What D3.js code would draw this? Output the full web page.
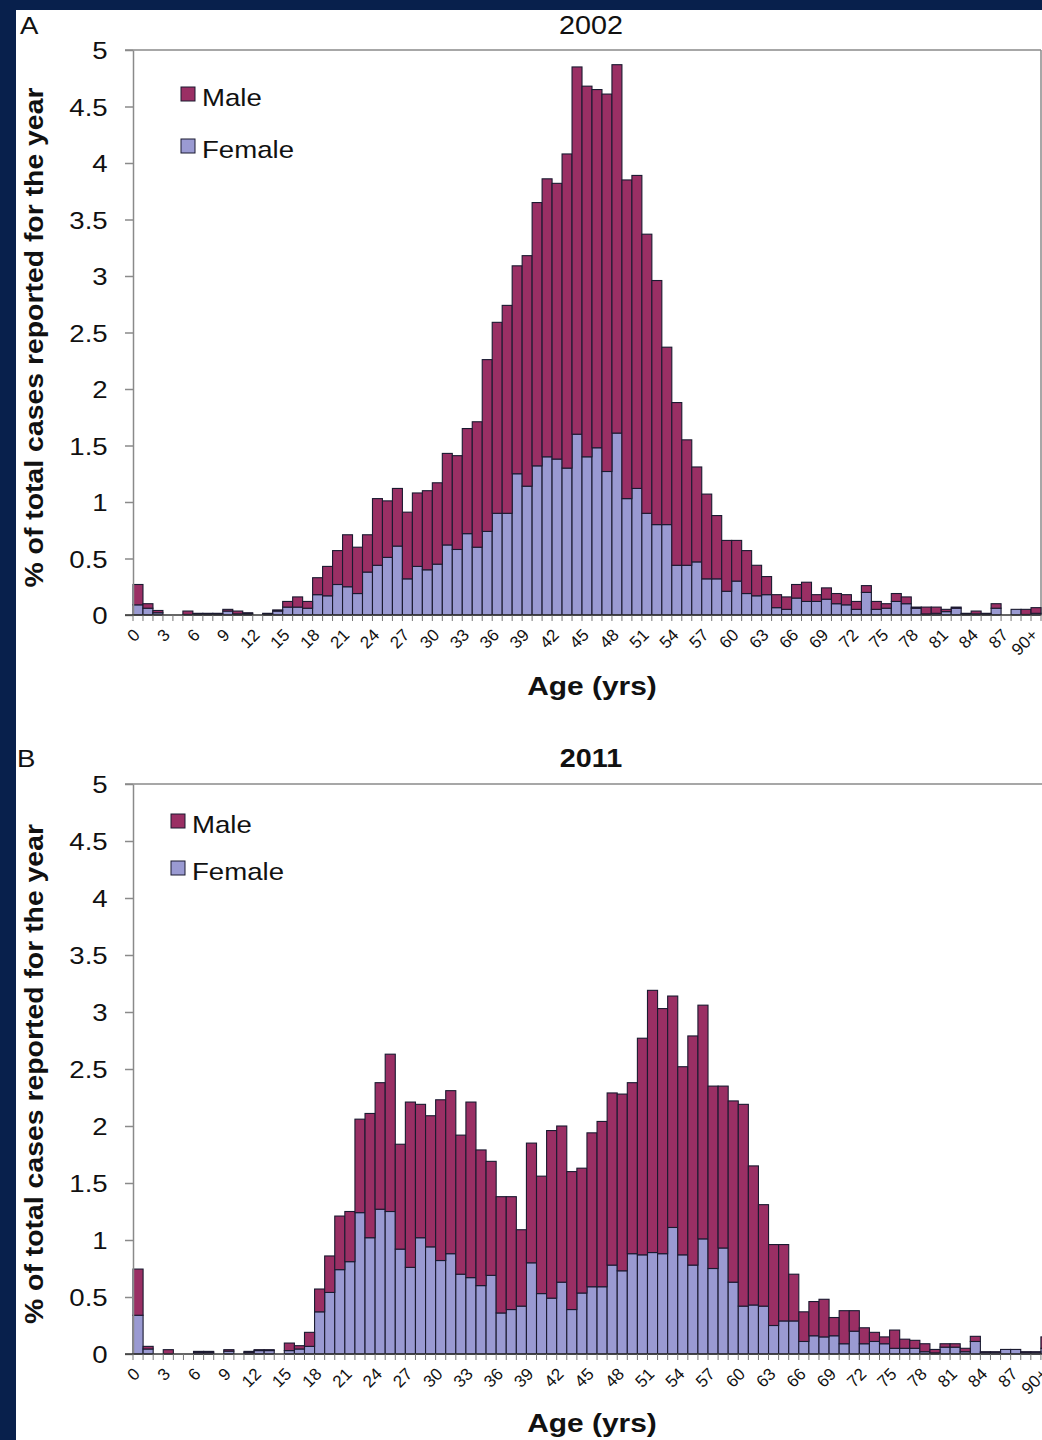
<!DOCTYPE html>
<html>
<head>
<meta charset="utf-8">
<script src="https://cdn.jsdelivr.net/npm/d3@7"></script>
<style>
  body { margin: 0; background: #08204c; }
  svg { display: block; }
</style>
</head>
<body>
<svg id="fig" width="1042" height="1440"></svg>
<script>
// age categories 0..89 plus 90+
const ages = d3.range(90).map(String).concat(["90+"]);

// % of total cases (female part + male part of each bar)
const female2002 = [0.09,0.06,0.02,0,0,0.005,0.01,0.01,0.01,0.035,
  0.01,0.01,0,0.01,0.035,0.07,0.07,0.06,0.18,0.17,
  0.27,0.25,0.19,0.38,0.44,0.51,0.61,0.32,0.43,0.40,
  0.45,0.62,0.58,0.72,0.60,0.74,0.90,0.90,1.25,1.14,
  1.32,1.40,1.38,1.30,1.60,1.40,1.48,1.27,1.61,1.03,
  1.12,0.90,0.80,0.80,0.44,0.44,0.47,0.32,0.32,0.21,
  0.30,0.19,0.17,0.18,0.065,0.05,0.15,0.12,0.12,0.14,
  0.10,0.09,0.05,0.20,0.05,0.06,0.12,0.10,0.06,0.01,
  0.015,0.03,0.06,0.01,0.01,0.01,0.06,0,0.05,0.005,0.015];
const male2002 = [0.18,0.04,0.02,0,0,0.03,0.005,0.005,0.005,0.015,
  0.025,0.01,0,0.005,0.01,0.05,0.09,0.06,0.15,0.26,
  0.30,0.46,0.41,0.33,0.59,0.50,0.51,0.59,0.65,0.70,
  0.72,0.81,0.83,0.93,1.11,1.52,1.69,1.84,1.84,2.04,
  2.33,2.46,2.44,2.78,3.25,3.28,3.17,3.34,3.26,2.82,
  2.77,2.47,2.16,1.57,1.44,1.11,0.84,0.75,0.56,0.45,
  0.36,0.38,0.27,0.16,0.115,0.11,0.12,0.17,0.06,0.10,
  0.09,0.09,0.07,0.06,0.07,0.04,0.07,0.06,0.01,0.06,
  0.055,0.02,0.01,0.005,0.025,0.005,0.04,0,0,0.045,0.05];

const female2011 = [0.34,0.044,0,0,0,0,0.015,0.015,0,0.025,
  0,0.015,0.03,0.03,0,0.03,0.044,0.067,0.37,0.54,
  0.74,0.81,1.24,1.02,1.27,1.25,0.92,0.76,1.02,0.94,
  0.82,0.88,0.70,0.67,0.60,0.69,0.36,0.39,0.42,0.80,
  0.53,0.49,0.63,0.39,0.535,0.59,0.59,0.78,0.73,0.88,
  0.87,0.89,0.88,1.11,0.87,0.78,1.01,0.75,0.93,0.63,
  0.42,0.43,0.42,0.25,0.29,0.29,0.11,0.16,0.15,0.16,
  0.09,0.20,0.09,0.11,0.09,0.05,0.05,0.05,0.02,0.01,
  0.06,0.06,0.02,0.11,0.015,0.015,0.04,0.04,0.015,0.015,0.05];
const male2011 = [0.405,0.023,0,0.038,0,0,0.008,0.008,0,0.013,
  0,0.008,0.008,0.008,0,0.066,0.029,0.123,0.20,0.32,
  0.47,0.44,0.82,1.09,1.11,1.38,0.92,1.45,1.17,1.15,
  1.41,1.43,1.22,1.54,1.19,1.00,1.02,0.99,0.67,1.05,
  1.03,1.47,1.37,1.21,1.095,1.35,1.45,1.51,1.55,1.50,
  1.90,2.30,2.15,2.03,1.65,2.01,2.05,1.60,1.42,1.59,
  1.77,1.22,0.89,0.71,0.67,0.41,0.26,0.30,0.33,0.16,
  0.29,0.18,0.14,0.08,0.06,0.16,0.08,0.07,0.07,0.03,
  0.03,0.03,0.03,0.045,0.005,0.005,0,0,0.005,0.005,0.10];

const yTicks = [0,0.5,1,1.5,2,2.5,3,3.5,4,4.5,5];
const seriesNames = ["Female","Male"];

const colors = { female: "#9a9ad2", male: "#9a2f64" };
const font = "'Liberation Sans', Arial, sans-serif";
const SX = 1.15; // the source figure is a bit wide

const svg = d3.select("#fig");

// navy frame, white page
svg.append("rect").attr("width", 1042).attr("height", 1440).attr("fill", "#08204c");
svg.append("rect").attr("x", 16).attr("y", 10).attr("width", 1026).attr("height", 1430).attr("fill", "#fff");

function label(g, x, y, txt, size, weight, anchor) {
  return g.append("text")
    .attr("transform", "translate(" + x + "," + y + ") scale(" + SX + ",1)")
    .attr("text-anchor", anchor || "start")
    .style("font-family", font)
    .style("font-size", size + "px")
    .style("font-weight", weight || "normal")
    .attr("fill", "#111")
    .text(txt);
}

const panels = [
  { letter: "A", title: "2002", bold: false, top: 50, bottom: 615, left: 133, right: 1041,
    female: female2002, male: male2002, legX: 181, legY: [106, 158], titleY: 34, ageY: 695, letterX: 20 },
  { letter: "B", title: "2011", bold: true, top: 784, bottom: 1354, left: 133, right: 1051,
    female: female2011, male: male2011, legX: 171, legY: [833, 880], titleY: 767, ageY: 1432, letterX: 17 }
];

panels.forEach(function(p) {
  const g = svg.append("g");

  const x = d3.scaleBand().domain(ages).range([p.left, p.right]).padding(0);
  const y = d3.scaleLinear().domain([0, 5]).range([p.bottom, p.top]);

  const rows = ages.map(function(a, i) { return { age: a, female: p.female[i], male: p.male[i] }; });
  const stacked = d3.stack().keys(["female", "male"])(rows);

  // frame: top and right border
  g.append("line").attr("x1", p.left - 8).attr("x2", p.right).attr("y1", p.top).attr("y2", p.top)
    .attr("stroke", "#8a8a8a").attr("stroke-width", 1.5);
  g.append("line").attr("x1", p.right).attr("x2", p.right).attr("y1", p.top).attr("y2", p.bottom)
    .attr("stroke", "#8a8a8a").attr("stroke-width", 1.5);

  // stacked bars
  g.selectAll("g.series").data(stacked).join("g")
    .attr("class", "series")
    .attr("fill", function(d) { return colors[d.key]; })
    .selectAll("rect")
    .data(function(d) { return d.filter(function(s) { return s[1] - s[0] > 0; }); })
    .join("rect")
    .attr("x", function(d) { return x(d.data.age); })
    .attr("width", x.bandwidth())
    .attr("y", function(d) { return y(d[1]); })
    .attr("height", function(d) { return y(d[0]) - y(d[1]); })
    .attr("stroke", "#1a1a30")
    .attr("stroke-width", 1.1);

  // y axis
  const yAxis = g.append("g")
    .attr("transform", "translate(" + p.left + ",0)")
    .call(d3.axisLeft(y).tickValues(yTicks).tickSize(8).tickSizeOuter(0).tickPadding(14)
      .tickFormat(function(d) { return String(d); }));
  yAxis.select(".domain").attr("stroke", "#8a8a8a").attr("stroke-width", 1.5);
  yAxis.selectAll(".tick line").attr("stroke", "#8a8a8a").attr("stroke-width", 1.5);
  yAxis.selectAll(".tick text")
    .attr("fill", "#111")
    .style("font-family", font)
    .style("font-size", "24px")
    .attr("transform", "scale(" + SX + ",1)")
    .attr("dy", "0.36em");

  // x axis: baseline, boundary ticks, rotated labels every 3 years
  g.append("line").attr("x1", p.left - 8).attr("x2", p.right).attr("y1", p.bottom).attr("y2", p.bottom)
    .attr("stroke", "#333").attr("stroke-width", 1.5);
  const edges = ages.map(function(a) { return x(a); }).concat([p.right]);
  g.selectAll("line.xt").data(edges).join("line")
    .attr("class", "xt")
    .attr("x1", function(d) { return d; }).attr("x2", function(d) { return d; })
    .attr("y1", p.bottom).attr("y2", p.bottom + 6)
    .attr("stroke", "#777").attr("stroke-width", 1);
  g.selectAll("text.xl").data(ages.filter(function(a, i) { return i % 3 === 0; })).join("text")
    .attr("class", "xl")
    .attr("transform", function(d) {
      return "translate(" + (x(d) + x.bandwidth() / 2 + 3) + "," + (p.bottom + 21) + ") rotate(-45)";
    })
    .attr("text-anchor", "end")
    .style("font-family", font)
    .style("font-size", "17px")
    .attr("fill", "#111")
    .text(function(d) { return d; });

  // titles
  label(g, p.letterX, p.titleY, p.letter, 24);
  label(g, (p.left + 1041) / 2 + 4, p.titleY, p.title, 25, p.bold ? "bold" : "normal", "middle");
  label(g, 592, p.ageY, "Age (yrs)", 26, "bold", "middle");

  g.append("text")
    .attr("transform", "translate(43," + ((p.top + p.bottom) / 2 + 5) + ") rotate(-90)")
    .attr("text-anchor", "middle")
    .attr("textLength", 500)
    .attr("lengthAdjust", "spacingAndGlyphs")
    .style("font-family", font)
    .style("font-size", "26px")
    .style("font-weight", "bold")
    .attr("fill", "#111")
    .text("% of total cases reported for the year");

  // legend: Male on top, Female below
  const legend = [
    { name: seriesNames[1], key: "male", y: p.legY[0] },
    { name: seriesNames[0], key: "female", y: p.legY[1] }
  ];
  legend.forEach(function(l) {
    g.append("rect").attr("x", p.legX).attr("y", l.y - 19).attr("width", 14).attr("height", 14)
      .attr("fill", colors[l.key]).attr("stroke", "#1a1a30").attr("stroke-width", 1);
    label(g, p.legX + 21, l.y, l.name, 24);
  });
});
</script>
</body>
</html>
